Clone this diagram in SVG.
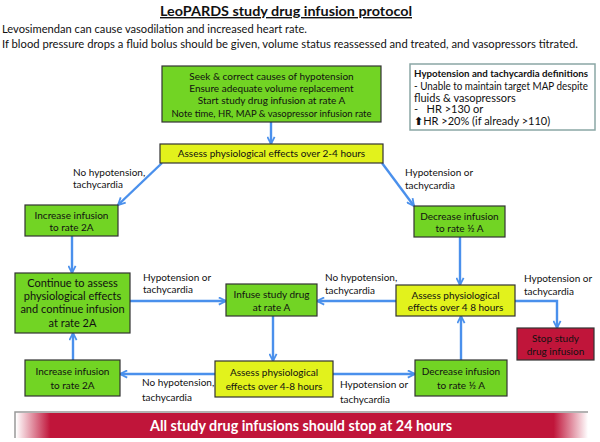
<svg xmlns="http://www.w3.org/2000/svg" width="600" height="442" viewBox="0 0 600 442">
<style>
text{font-family:Lato,"Liberation Sans",sans-serif;font-size:10px;fill:#111}
.c{text-anchor:middle}
.g{fill:#72d424;stroke:#333;stroke-width:1.2}
.y{fill:#e2f21c;stroke:#333;stroke-width:1.2}
.r{fill:#c0153a;stroke:#333;stroke-width:1.2}
.ln{fill:none;stroke:#4a90ec;stroke-width:2.4;marker-end:url(#ah)}
.lb{font-size:10px}
.d{font-size:11px}
</style>
<defs>
<marker id="ah" viewBox="0 0 10 10" refX="9" refY="5" markerWidth="9" markerHeight="9" markerUnits="userSpaceOnUse" orient="auto">
<path d="M1,1 L9,5 L1,9" fill="none" stroke="#4a90ec" stroke-width="2"/>
</marker>
<linearGradient id="bg" x1="0" y1="0" x2="1" y2="0">
<stop offset="0" stop-color="#ffffff"/>
<stop offset="0.06" stop-color="#c0153a"/>
<stop offset="0.94" stop-color="#c0153a"/>
<stop offset="1" stop-color="#ffffff"/>
</linearGradient>
</defs>
<rect width="600" height="442" fill="#fff"/>
<g id="header">
<text x="286" y="16" class="c" style="font-size:14px;font-weight:bold;text-decoration:underline" textLength="252" lengthAdjust="spacingAndGlyphs">LeoPARDS study drug infusion protocol</text>
<text x="2" y="33" style="font-size:11px" textLength="305" lengthAdjust="spacingAndGlyphs">Levosimendan can cause vasodilation and increased heart rate.</text>
<text x="2" y="48" style="font-size:11px" textLength="576" lengthAdjust="spacingAndGlyphs">If blood pressure drops a fluid bolus should be given, volume status reassessed and treated, and vasopressors titrated.</text>
</g>
<g id="definitions">
<rect x="410" y="64" width="185" height="66" fill="#fff" stroke="#8aa7a5" stroke-width="1.5"/>
<text x="414" y="77" style="font-weight:bold;font-size:10px" textLength="174" lengthAdjust="spacingAndGlyphs">Hypotension and tachycardia definitions</text>
<text x="414" y="90" style="font-size:10.5px" textLength="174" lengthAdjust="spacingAndGlyphs">- Unable to maintain target MAP despite</text>
<text class="d" x="414" y="101.5">fluids &amp; vasopressors</text>
<text class="d" x="414" y="113" xml:space="preserve">-   HR &gt;130 or</text>
<text class="d" x="414" y="125"><tspan style="font-family:'DejaVu Sans',sans-serif;font-size:11px;font-weight:bold">⬆</tspan>HR &gt;20% (if already &gt;110)</text>
</g>
<g id="connectors">
<line class="ln" x1="271" y1="122" x2="271" y2="144"/>
<line class="ln" x1="162" y1="163" x2="118" y2="205"/>
<line class="ln" x1="382" y1="163" x2="414" y2="206"/>
<line class="ln" x1="72" y1="236" x2="72" y2="273"/>
<line class="ln" x1="130" y1="301" x2="226" y2="301"/>
<line class="ln" x1="396" y1="301" x2="317" y2="301"/>
<line class="ln" x1="460" y1="237" x2="460" y2="285"/>
<path class="ln" d="M515,301 H557 V328"/>
<line class="ln" x1="273" y1="316" x2="273" y2="361"/>
<line class="ln" x1="215" y1="374" x2="120" y2="374"/>
<line class="ln" x1="73" y1="360" x2="73" y2="333"/>
<line class="ln" x1="333" y1="374" x2="415" y2="374"/>
<line class="ln" x1="461" y1="360" x2="461" y2="316"/>
<text class="lb" x="73" y="176">No hypotension,</text>
<text class="lb" x="73" y="188">tachycardia</text>
<text class="lb" x="405" y="176">Hypotension or</text>
<text class="lb" x="405" y="189">tachycardia</text>
<text class="lb" x="143" y="281">Hypotension or</text>
<text class="lb" x="143" y="293">tachycardia</text>
<text class="lb" x="325" y="281">No hypotension,</text>
<text class="lb" x="325" y="294">tachycardia</text>
<text class="lb" x="524" y="282">Hypotension or</text>
<text class="lb" x="524" y="295">tachycardia</text>
<text class="lb" x="142" y="386">No hypotension,</text>
<text class="lb" x="142" y="401">tachycardia</text>
<text class="lb" x="340" y="388">Hypotension or</text>
<text class="lb" x="340" y="403">tachycardia</text>
</g>
<g id="start">
<rect class="g" x="162" y="66" width="219" height="56"/>
<text class="c" x="271.5" y="79.5">Seek &amp; correct causes of hypotension</text>
<text class="c" x="271.5" y="91.5">Ensure adequate volume replacement</text>
<text class="c" x="271.5" y="103.5">Start study drug infusion at rate A</text>
<text class="c" x="271.5" y="116.5" textLength="200" lengthAdjust="spacingAndGlyphs">Note time, HR, MAP &amp; vasopressor infusion rate</text>
</g>
<g id="assess1">
<rect class="y" x="160" y="144" width="223" height="19"/>
<text class="c" x="271.5" y="157">Assess physiological effects over 2-4 hours</text>
</g>
<g id="increase1">
<rect class="g" x="25" y="205" width="93" height="31"/>
<text class="c" x="71.5" y="218.5">Increase infusion</text>
<text class="c" x="71.5" y="231">to rate 2A</text>
</g>
<g id="decrease1">
<rect class="g" x="414" y="206" width="91" height="31"/>
<text class="c" x="459.5" y="219.5">Decrease infusion</text>
<text class="c" x="459.5" y="232">to rate ½ A</text>
</g>
<g id="continue">
<rect class="g" x="15" y="273" width="115" height="60"/>
<text class="c" x="72.5" y="287" style="font-size:11px">Continue to assess</text>
<text class="c" x="72.5" y="300" style="font-size:11px">physiological effects</text>
<text class="c" x="72.5" y="313" style="font-size:11px">and continue infusion</text>
<text class="c" x="72.5" y="327" style="font-size:11px">at rate 2A</text>
</g>
<g id="infuse">
<rect class="g" x="226" y="284" width="91" height="32"/>
<text class="c" x="271.5" y="297.5">Infuse study drug</text>
<text class="c" x="271.5" y="310.5">at rate A</text>
</g>
<g id="assess2">
<rect class="y" x="396" y="285" width="119" height="31"/>
<text class="c" x="455.5" y="298.5">Assess physiological</text>
<text class="c" x="455.5" y="311">effects over 4 8 hours</text>
</g>
<g id="stop">
<rect class="r" x="517" y="328" width="77" height="32"/>
<text class="c" x="555.5" y="342">Stop study</text>
<text class="c" x="555.5" y="354.5">drug infusion</text>
</g>
<g id="assess3">
<rect class="y" x="215" y="361" width="118" height="36"/>
<text class="c" x="274" y="376">Assess physiological</text>
<text class="c" x="274" y="390">effects over 4-8 hours</text>
</g>
<g id="increase2">
<rect class="g" x="25" y="360" width="95" height="36"/>
<text class="c" x="72.5" y="374.5">Increase infusion</text>
<text class="c" x="72.5" y="388.5">to rate 2A</text>
</g>
<g id="decrease2">
<rect class="g" x="415" y="360" width="92" height="36"/>
<text class="c" x="461" y="374.5">Decrease infusion</text>
<text class="c" x="461" y="388.5">to rate ½ A</text>
</g>
<g id="banner">
<path d="M15,438 V412 H588" fill="none" stroke="#999" stroke-width="1.5"/>
<rect x="16" y="413" width="572" height="25" fill="url(#bg)"/>
<text class="c" x="301" y="430.5" style="font-size:15px;font-weight:bold;fill:#fff" textLength="302" lengthAdjust="spacingAndGlyphs">All study drug infusions should stop at 24 hours</text>
</g>
</svg>
